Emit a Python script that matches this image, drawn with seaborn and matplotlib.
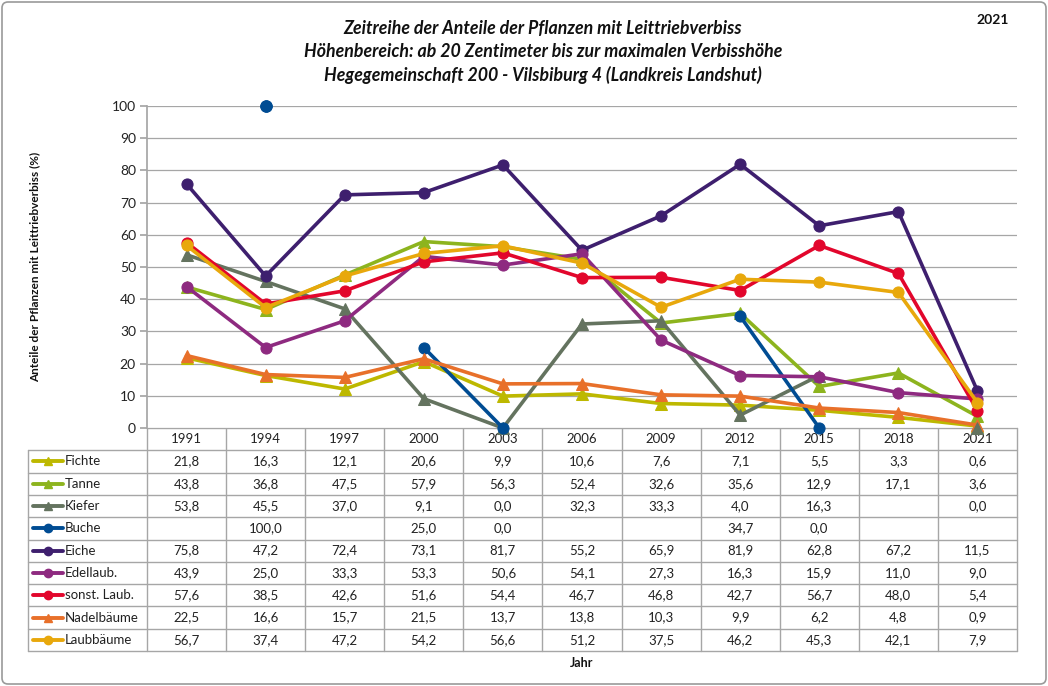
import numpy as np
import pandas as pd
import matplotlib
matplotlib.use("Agg")
import matplotlib.pyplot as plt
import seaborn as sns
from matplotlib.lines import Line2D
from matplotlib.patches import FancyBboxPatch

years = ["1991", "1994", "1997", "2000", "2003", "2006", "2009", "2012", "2015", "2018", "2021"]
N = np.nan
fichte = [21.8, 16.3, 12.1, 20.6, 9.9, 10.6, 7.6, 7.1, 5.5, 3.3, 0.6]
tanne = [43.8, 36.8, 47.5, 57.9, 56.3, 52.4, 32.6, 35.6, 12.9, 17.1, 3.6]
kiefer = [53.8, 45.5, 37.0, 9.1, 0.0, 32.3, 33.3, 4.0, 16.3, N, 0.0]
buche = [N, 100.0, N, 25.0, 0.0, N, N, 34.7, 0.0, N, N]
eiche = [75.8, 47.2, 72.4, 73.1, 81.7, 55.2, 65.9, 81.9, 62.8, 67.2, 11.5]
edellaub = [43.9, 25.0, 33.3, 53.3, 50.6, 54.1, 27.3, 16.3, 15.9, 11.0, 9.0]
sonst_laub = [57.6, 38.5, 42.6, 51.6, 54.4, 46.7, 46.8, 42.7, 56.7, 48.0, 5.4]
nadelbaeume = [22.5, 16.6, 15.7, 21.5, 13.7, 13.8, 10.3, 9.9, 6.2, 4.8, 0.9]
laubbaeume = [56.7, 37.4, 47.2, 54.2, 56.6, 51.2, 37.5, 46.2, 45.3, 42.1, 7.9]

series_names = ["Fichte", "Tanne", "Kiefer", "Buche", "Eiche", "Edellaub.",
                "sonst. Laub.", "Nadelbäume", "Laubbäume"]
series_values = [fichte, tanne, kiefer, buche, eiche, edellaub, sonst_laub, nadelbaeume, laubbaeume]
colors = ["#BDB800", "#8DB41E", "#64735F", "#004C93", "#3E1F6E", "#8E2A80",
          "#E2062C", "#E8702A", "#E8A80C"]
markers = ["^", "^", "^", "o", "o", "o", "o", "^", "o"]

title = ("Zeitreihe der Anteile der Pflanzen mit Leittriebverbiss\n"
         "Höhenbereich: ab 20 Zentimeter bis zur maximalen Verbisshöhe\n"
         "Hegegemeinschaft 200 - Vilsbiburg 4 (Landkreis Landshut)")
ylabel = "Anteile der Pflanzen mit Leittriebverbiss (%)"
xlabel = "Jahr"
corner = "2021"

sns.set_theme(style="white")
plt.rcParams["font.family"] = ["Lato", "DejaVu Sans"]

W, H = 1048, 686
fig = plt.figure(figsize=(W / 100, H / 100), dpi=100)

# geometry in pixels
L, R, T, B = 147, 1017, 106, 428
ax = fig.add_axes([L / W, 1 - B / H, (R - L) / W, (B - T) / H])

# long-form data with segment ids so gaps break the lines
rows = []
for name, vals in zip(series_names, series_values):
    seg = 0
    prev_nan = True
    for i, v in enumerate(vals):
        if np.isnan(v):
            prev_nan = True
            continue
        if prev_nan:
            seg += 1
        prev_nan = False
        rows.append({"series": name, "pos": i, "val": v, "seg": f"{name}_{seg}"})
df = pd.DataFrame(rows)

for name, col, mk in zip(series_names, colors, markers):
    sub = df[df.series == name]
    sns.lineplot(data=sub, x="pos", y="val", units="seg", estimator=None,
                 color=col, linewidth=2.6, marker=mk, markersize=8,
                 markeredgecolor=col, ax=ax, legend=False, sort=False, clip_on=False)
    # single isolated points
    counts = sub.groupby("seg").size()
    single = sub[sub.seg.isin(counts[counts == 1].index)]
    if len(single):
        sns.scatterplot(data=single, x="pos", y="val", color=col, marker=mk,
                        s=70, edgecolor=col, ax=ax, legend=False, zorder=5, clip_on=False)

ax.set_xlim(-0.5, len(years) - 0.5)
ax.set_ylim(0, 100)
ax.set_yticks(range(0, 101, 10))
ax.set_xticks([])
ax.set_xlabel("")
ax.set_ylabel("")
ax.grid(axis="y", color="#A6A6A6", linewidth=0.9)
ax.set_axisbelow(True)
for s in ["top", "right", "bottom"]:
    ax.spines[s].set_visible(False)
ax.spines["left"].set_color("#A6A6A6")
ax.tick_params(axis="y", left=True, length=5, color="#A6A6A6", labelsize=10,
               labelcolor="#222222", pad=3)

# overlay axes for table & text in pixel coordinates
tax = fig.add_axes([0, 0, 1, 1], zorder=-1)
tax.set_xlim(0, W)
tax.set_ylim(H, 0)
tax.axis("off")

# figure border
tax.add_patch(FancyBboxPatch((2, 2), W - 4, H - 4, boxstyle="round,pad=0,rounding_size=6",
                             fill=False, edgecolor="#9A9A9A", linewidth=1.2))

ncol = len(years)
cw = (R - L) / ncol
rh = 22.3
TL = 28
tb = B + rh * (len(series_names) + 1)
gc = "#A6A6A6"
# horizontal lines
tax.plot([L, R], [B, B], color=gc, lw=1)
for k in range(1, len(series_names) + 2):
    y = B + k * rh
    tax.plot([TL, R], [y, y], color=gc, lw=1)
# vertical lines
tax.plot([TL, TL], [B + rh, tb], color=gc, lw=1)
for i in range(ncol + 1):
    x = L + i * cw
    tax.plot([x, x], [B, tb], color=gc, lw=1)

for i, yr in enumerate(years):
    tax.text(L + (i + 0.5) * cw, B + rh / 2, yr, ha="center", va="center", fontsize=9.5,
             color="#222222")

for r, (name, vals, col, mk) in enumerate(zip(series_names, series_values, colors, markers)):
    yc = B + (r + 1.5) * rh
    tax.add_line(Line2D([33, 63], [yc, yc], color=col, lw=2.8, marker=None,
                        solid_capstyle="round"))
    tax.add_line(Line2D([48], [yc], color=col, marker=mk, markersize=6,
                        markeredgecolor=col))
    tax.text(65, yc, name, ha="left", va="center", fontsize=9.5, color="#222222")
    for i, v in enumerate(vals):
        if np.isnan(v):
            continue
        tax.text(L + (i + 0.5) * cw, yc, f"{v:.1f}".replace(".", ","), ha="center",
                 va="center", fontsize=9.5, color="#222222")

fig.text(543 / W, 1 - 52 / H, title, ha="center", va="center", fontsize=12.8,
         fontweight="bold", fontstyle="italic", linespacing=1.4, color="#111111")
fig.text(993 / W, 1 - 20 / H, corner, ha="center", va="center", fontsize=10,
         fontweight="bold", color="#111111")
fig.text(35 / W, 1 - 267 / H, ylabel, ha="center", va="center", rotation=90,
         fontsize=8.5, fontweight="bold", color="#111111")
fig.text(582 / W, 1 - 663 / H, xlabel, ha="center", va="center", fontsize=9,
         fontweight="bold", color="#111111")

fig.savefig("out.png", dpi=100, facecolor="white")
